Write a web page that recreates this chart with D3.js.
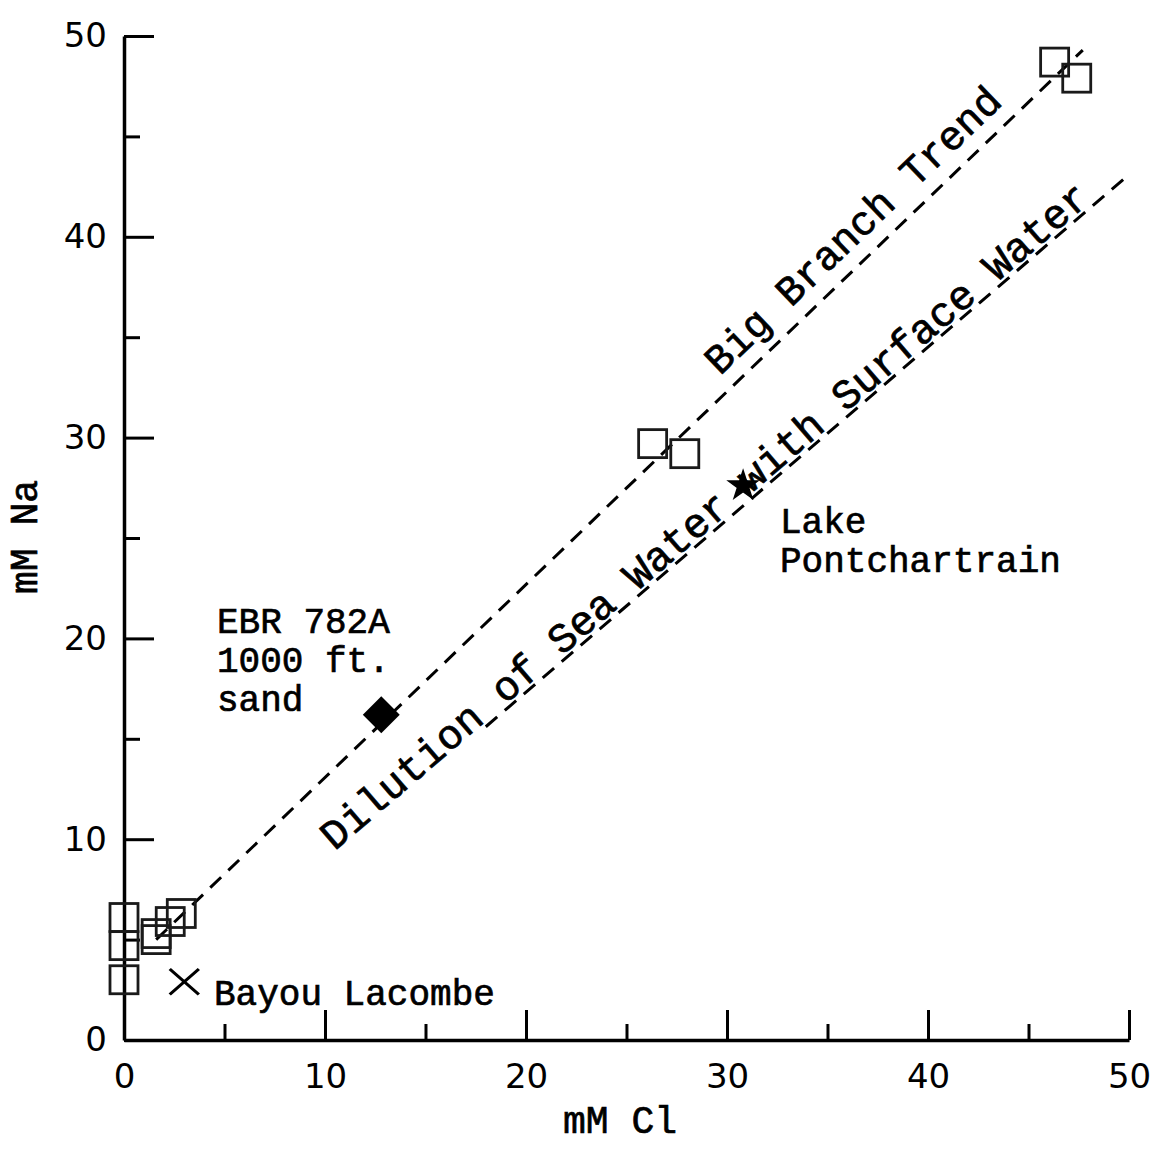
<!DOCTYPE html>
<html>
<head>
<meta charset="utf-8">
<script src="https://cdn.jsdelivr.net/npm/d3@7"></script>
<style>
  html, body { margin: 0; padding: 0; background: #fff; }
  svg { display: block; }
  .mono { font-family: "Liberation Mono", "Courier New", monospace; fill: #000; stroke: #000; stroke-width: 0.7px; }
</style>
</head>
<body>
<svg id="chart" width="1160" height="1152"></svg>
<script>
// ---- data ----
const xTicks = [0, 10, 20, 30, 40, 50];
const xMinorTicks = [5, 15, 25, 35, 45];
const yTicks = [0, 10, 20, 30, 40, 50];
const yMinorTicks = [5, 15, 25, 35, 45];

// open squares (mM Cl, mM Na)
const squareCl = [0.0, 0.0, 0.0, 1.6, 1.6, 2.3, 2.85, 26.3, 27.9, 46.3, 47.4];
const squareNa = [6.1, 4.7, 3.0, 5.3, 5.0, 5.9, 6.3, 29.7, 29.2, 48.7, 47.9];

// EBR 782A (filled diamond)
const diamondCl = [12.8];
const diamondNa = [16.2];
// Lake Pontchartrain (star)
const starCl = [30.8];
const starNa = [27.6];
// Bayou Lacombe (x)
const crossCl = [3.0];
const crossNa = [2.9];

// trend lines: [Cl, Na] endpoints
const bigBranchCl = [1.6, 47.7];
const bigBranchNa = [5.0, 49.3];
const dilutionCl = [18.0, 50.0];
const dilutionNa = [15.6, 43.1];

const ebrLines = ["EBR 782A", "1000 ft.", "sand"];
const lakeLines = ["Lake", "Pontchartrain"];
const bayouLabel = "Bayou Lacombe";
const bigBranchLabel = "Big Branch Trend";
const dilutionLabel = "Dilution of Sea Water with Surface Water";

// ---- layout ----
const svg = d3.select("#chart");
const x = d3.scaleLinear().domain([0, 50]).range([124, 1129]);
const y = d3.scaleLinear().domain([0, 50]).range([1040, 36]);

// axes
const tickFont = '"DejaVu Sans", sans-serif';
const yAxis = svg.append("g").attr("transform", `translate(${x(0)},0)`)
  .call(d3.axisLeft(y).tickValues(yTicks).tickSizeInner(-30).tickSizeOuter(0).tickPadding(17).tickFormat(d3.format("d")));
const yMinor = svg.append("g").attr("transform", `translate(${x(0)},0)`)
  .call(d3.axisLeft(y).tickValues(yMinorTicks).tickSizeInner(-16).tickSizeOuter(0).tickFormat(""));
const xAxis = svg.append("g").attr("transform", `translate(0,${y(0)})`)
  .call(d3.axisBottom(x).tickValues(xTicks).tickSizeInner(-30).tickSizeOuter(0).tickPadding(24).tickFormat(d3.format("d")));
const xMinor = svg.append("g").attr("transform", `translate(0,${y(0)})`)
  .call(d3.axisBottom(x).tickValues(xMinorTicks).tickSizeInner(-16).tickSizeOuter(0).tickFormat(""));

[yMinor, xMinor].forEach(g => g.select(".domain").remove());
[yAxis, xAxis, yMinor, xMinor].forEach(g => {
  g.selectAll(".tick line").attr("stroke", "#000").attr("stroke-width", 3);
  g.selectAll("text").attr("font-family", tickFont).attr("font-size", 34).attr("fill", "#000");
});
[yAxis, xAxis].forEach(g => g.select(".domain").attr("stroke", "#000").attr("stroke-width", 3.5));

// axis titles
svg.append("text").attr("class", "mono")
  .attr("x", 620).attr("y", 1133).attr("text-anchor", "middle")
  .attr("font-size", 38).text("mM Cl");
svg.append("text").attr("class", "mono")
  .attr("transform", "translate(37,537) rotate(-90)").attr("text-anchor", "middle")
  .attr("font-size", 38).text("mM Na");

// trend lines
function drawLine(cl, na) {
  svg.append("path")
    .datum(cl.map((c, i) => [c, na[i]]))
    .attr("d", d3.line().x(d => x(d[0])).y(d => y(d[1])))
    .attr("fill", "none").attr("stroke", "#000")
    .attr("stroke-width", 3).attr("stroke-dasharray", "15,10");
}
drawLine(bigBranchCl, bigBranchNa);
drawLine(dilutionCl, dilutionNa);

// rotated labels along lines
function lineLabel(cl, na, atCl, offset, label, size) {
  const t = (atCl - cl[0]) / (cl[1] - cl[0]);
  const na0 = na[0] + t * (na[1] - na[0]);
  const px = x(atCl), py = y(na0);
  const ang = Math.atan2(y(na[1]) - y(na[0]), x(cl[1]) - x(cl[0])) * 180 / Math.PI;
  svg.append("text").attr("class", "mono")
    .attr("transform", `translate(${px},${py}) rotate(${ang})`)
    .attr("dy", -offset)
    .attr("font-size", size).text(label);
}
lineLabel(bigBranchCl, bigBranchNa, 30.2, 16, bigBranchLabel, 41);
lineLabel(dilutionCl, dilutionNa, 10.6, 4, dilutionLabel, 41.6);

// open squares
const sq = 28;
svg.append("g").selectAll("rect")
  .data(squareCl.map((c, i) => [c, squareNa[i]]))
  .join("rect")
  .attr("x", d => x(d[0]) - sq / 2).attr("y", d => y(d[1]) - sq / 2)
  .attr("width", sq).attr("height", sq)
  .attr("fill", "none").attr("stroke", "#1a1a1a").attr("stroke-width", 2.8);

// filled diamond
svg.append("g").selectAll("path")
  .data(diamondCl.map((c, i) => [c, diamondNa[i]]))
  .join("path")
  .attr("d", d3.symbol().type(d3.symbolSquare).size(680))
  .attr("transform", d => `translate(${x(d[0])},${y(d[1])}) rotate(45)`)
  .attr("fill", "#000");

// star
svg.append("g").selectAll("path")
  .data(starCl.map((c, i) => [c, starNa[i]]))
  .join("path")
  .attr("d", d3.symbol().type(d3.symbolStar).size(260))
  .attr("transform", d => `translate(${x(d[0])},${y(d[1])})`)
  .attr("fill", "#000").attr("stroke", "#000").attr("stroke-width", 1.5);

// cross
svg.append("g").selectAll("path")
  .data(crossCl.map((c, i) => [c, crossNa[i]]))
  .join("path")
  .attr("d", d3.symbol().type(d3.symbolTimes).size(420))
  .attr("transform", d => `translate(${x(d[0])},${y(d[1])}) scale(1.15,1)`)
  .attr("fill", "none").attr("stroke", "#000").attr("stroke-width", 2.8);

// annotations
const ebr = svg.append("text").attr("class", "mono").attr("font-size", 36);
ebrLines.forEach((s, i) => ebr.append("tspan").attr("x", 217).attr("y", 633 + i * 39).text(s));
const lake = svg.append("text").attr("class", "mono").attr("font-size", 36);
lakeLines.forEach((s, i) => lake.append("tspan").attr("x", 780).attr("y", 533 + i * 39).text(s));
svg.append("text").attr("class", "mono").attr("font-size", 36)
  .attr("x", 214).attr("y", 1005).text(bayouLabel);
</script>
</body>
</html>
